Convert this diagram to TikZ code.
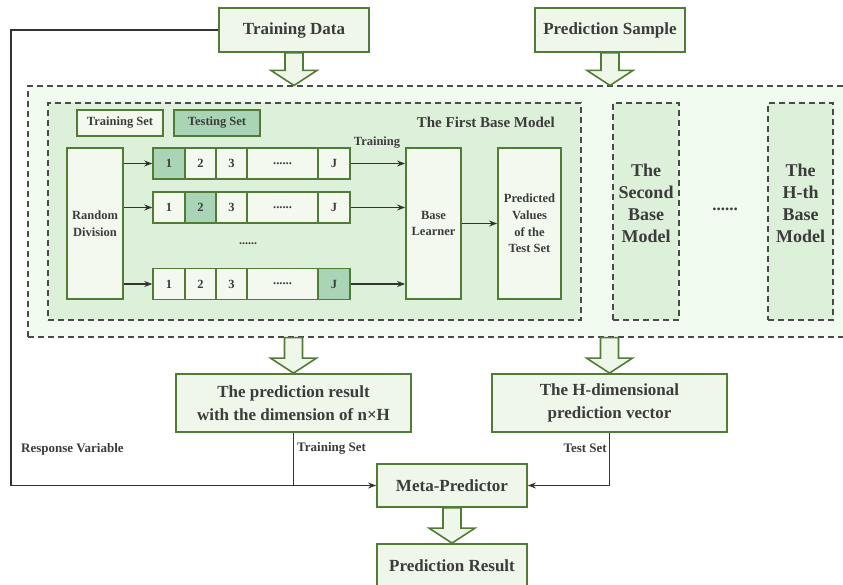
\documentclass[tikz,border=0pt]{standalone}
\usepackage{fontspec}
\setmainfont{Liberation Serif}
\usetikzlibrary{calc,arrows.meta}
\definecolor{bgreen}{HTML}{507C36}
\definecolor{pale}{HTML}{EFF7EA}
\definecolor{cellw}{HTML}{F3F9EF}
\definecolor{hl}{HTML}{A9D5B6}
\definecolor{outerfill}{HTML}{F2FBEF}
\definecolor{innerfill}{HTML}{DDF0D9}
\definecolor{dgray}{HTML}{4A4A4A}
\definecolor{tgray}{HTML}{3C3C3C}
\newcommand{\fs}[2]{\fontsize{#1}{#2}\selectfont\bfseries}
\newcommand{\HArrow}[2]{%
  \draw[harrow] let \p1=#1, \p2=#2 in
    (\x1-9pt,\y1) -- (\x1-9pt,\y2+15pt) -- (\x1-23pt,\y2+15pt) -- (\x1,\y2)
    -- (\x1+23pt,\y2+15pt) -- (\x1+9pt,\y2+15pt) -- (\x1+9pt,\y1) -- cycle;}
\begin{document}
\begin{tikzpicture}[x=1pt,y=-1pt,
  box/.style={draw=bgreen, line width=1.8pt, fill=pale, text=tgray, align=center, inner sep=0pt},
  cell/.style={box, line width=1.5pt, minimum height=31, font=\fs{12.5}{14}},
  dbox/.style={draw=dgray, dash pattern=on 6pt off 4pt, line width=1.1pt, inner sep=0pt},
  conn/.style={draw=black!80, line width=1.2pt},
  arr/.style={conn, -{Stealth[length=8pt,width=6pt]}},
  harrow/.style={draw=bgreen, line width=1.6pt, fill=pale, line join=miter},
  lbl/.style={text=tgray, inner sep=0pt}
]
\useasboundingbox (0,0) rectangle (843,585);
\clip (0,0) rectangle (843,585);

% top boxes
\node[box, minimum width=150, minimum height=44, font=\fs{17}{20}] (td) at (294,30) {Training Data};
\node[box, minimum width=150, minimum height=44, font=\fs{17}{20}] (ps) at (610,30) {Prediction Sample};

% outer dashed container
\node[dbox, fill=outerfill, minimum width=832, minimum height=251] (outer) at (444,211.5) {};
% first base model container
\node[dbox, fill=innerfill, minimum width=533, minimum height=217] (first) at (314.5,211.5) {};
\node[lbl, anchor=east, font=\fs{15}{18}] (firstt) at (555,122) {The First Base Model};

% legend
\node[box, fill=cellw, minimum width=86, minimum height=26, font=\fs{12.5}{14}] (trs) at (120,123) {Training Set};
\node[box, fill=hl, minimum width=86, minimum height=26, font=\fs{12.5}{14}] (tes) at (217,123) {Testing Set};

% random division
\node[box, fill=cellw, minimum width=56, minimum height=151, font=\fs{12.5}{16.5}] (rd) at (95,223.5) {Random\\Division};

% base learner and predicted values
\node[box, fill=cellw, minimum width=55, minimum height=151, font=\fs{12.5}{16.5}] (bl) at (433.5,223.5) {Base\\Learner};
\node[box, fill=cellw, minimum width=63, minimum height=151, font=\fs{12.5}{16.7}] (pv) at (529.5,223.5) {Predicted\\Values\\of the\\Test Set};

% rows of folds
\foreach \r/\yc/\hh in {1/163.5/1, 2/207.5/2, 3/284/5}{
  \foreach \c/\xl/\xr/\t in {1/153/185/1, 2/185/216/2, 3/216/247/3, 4/247/318/{......}, 5/318/350/J}{
    \ifnum\c=\hh\relax\def\cf{hl}\else\def\cf{cellw}\fi
    \node[cell, fill=\cf, minimum width={\xr-\xl}] (r\r-\c) at ({(\xl+\xr)/2},\yc) {\t};
  }
  \draw[arr] (rd.east |- r\r-1.west) -- (r\r-1.west);
  \draw[arr] (r\r-5.east) -- (bl.west |- r\r-5.east);
}
\node[lbl, font=\fs{12}{14}] (mdots) at (248,244) {......};
\node[lbl, font=\fs{12.5}{14}] (trl) at (377,143) {Training};
\draw[arr] (bl.east) -- (pv.west);

% other base models
\node[dbox, fill=innerfill, minimum width=66, minimum height=217] (sb) at (646,211.5) {};
\node[lbl, align=center, font=\fs{18}{22}] (sbt) at (646,203) {The\\Second\\Base\\Model};
\node[dbox, fill=innerfill, minimum width=65, minimum height=217] (hb) at (800.5,211.5) {};
\node[lbl, align=center, font=\fs{18}{22}] (hbt) at (800.5,203) {The\\H-th\\Base\\Model};
\node[lbl, font=\fs{17}{18}] (odots) at (725,209) {......};

% bottom boxes
\node[box, minimum width=235, minimum height=58, font=\fs{17}{23}] (pr) at (293.5,403) {The prediction result\\with the dimension of n×H};
\node[box, minimum width=235, minimum height=58, font=\fs{17}{23}] (hv) at (609.5,403) {The H-dimensional\\prediction vector};
\node[box, minimum width=150, minimum height=43, font=\fs{17}{20}] (meta) at (452,485.5) {Meta-Predictor};
\node[box, minimum width=150, minimum height=44, font=\fs{17}{20}] (res) at (452,566) {Prediction Result};

% hollow arrows
\HArrow{(td.south)}{(td.south |- outer.north)}
\HArrow{(ps.south)}{(ps.south |- outer.north)}
\HArrow{(pr.north |- outer.south)}{(pr.north)}
\HArrow{(hv.north |- outer.south)}{(hv.north)}
\HArrow{(meta.south)}{(res.north)}

% connectors
\coordinate (lc) at (11,0);
\draw[arr] (td.west) -- (lc |- td.west) -- (lc |- meta.west) -- (meta.west);
\draw[conn] (pr.south) -- (pr.south |- meta.west);
\draw[arr] (hv.south) |- (meta.east);

% labels
\node[lbl, anchor=west, font=\fs{13}{15}] (rv) at (21,449) {Response Variable};
\node[lbl, anchor=west, font=\fs{13}{15}] (tsl) at (297,448) {Training Set};
\node[lbl, anchor=east, font=\fs{13}{15}] (tel) at (607,448) {Test Set};
\end{tikzpicture}
\end{document}
